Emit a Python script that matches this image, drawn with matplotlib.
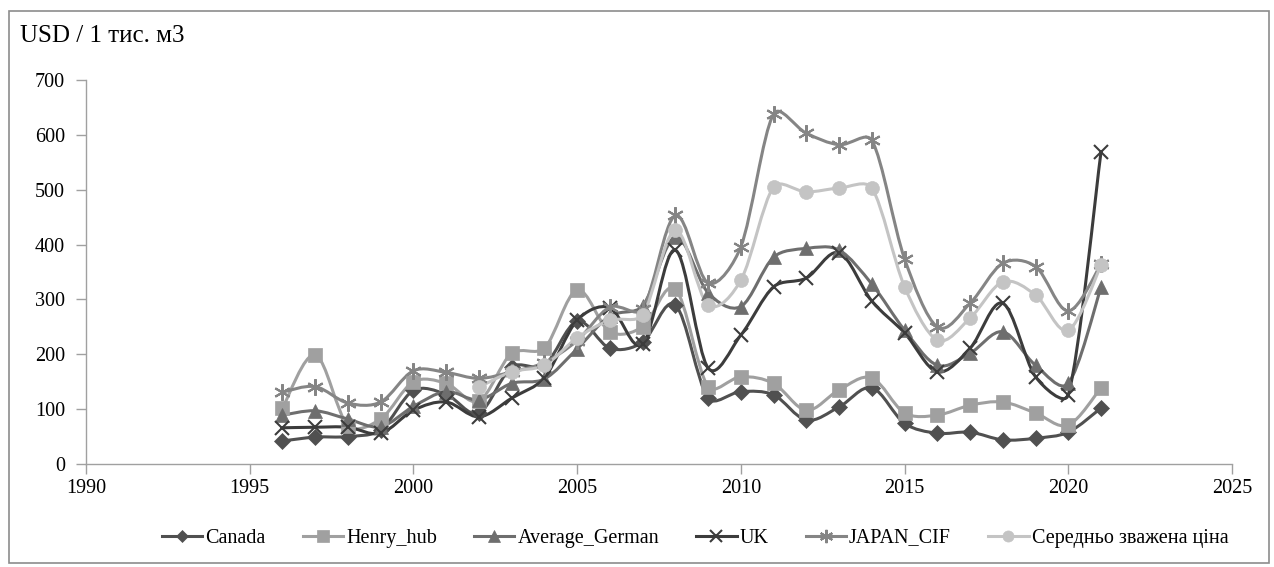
import numpy as np
import matplotlib
matplotlib.use("Agg")
import matplotlib.pyplot as plt
from matplotlib.path import Path
from matplotlib.patches import PathPatch, Rectangle
from matplotlib.lines import Line2D

plt.rcParams['font.family'] = ['Liberation Serif', 'DejaVu Serif']

years = list(range(1996, 2022))
canada = [42, 49, 50, 62, 134, 127, 93, 177, 180, 260, 211, 222, 290, 120, 132, 126, 80, 104, 139, 74, 56, 58, 44, 47, 58, 102]
henry_hub = [102, 199, 70, 82, 150, 147, 115, 202, 211, 317, 241, 250, 319, 141, 159, 147, 98, 135, 157, 93, 89, 107, 113, 93, 71, 139]
average_german = [89, 97, 82, 68, 105, 132, 117, 147, 155, 210, 270, 288, 414, 312, 287, 377, 393, 390, 328, 244, 180, 202, 241, 180, 147, 322]
uk = [66, 67, 67, 56, 98, 113, 86, 120, 157, 262, 285, 218, 390, 175, 235, 323, 339, 385, 297, 239, 168, 211, 293, 159, 126, 569]
japan_cif = [131, 141, 111, 113, 170, 167, 156, 168, 185, 225, 286, 282, 453, 330, 396, 638, 603, 582, 590, 374, 250, 293, 366, 360, 279, 364]
weighted_years = list(range(2002, 2022))
weighted = [140, 168, 180, 230, 262, 272, 426, 290, 335, 505, 496, 503, 503, 323, 226, 266, 332, 308, 244, 362]

series = [
    ("Canada", years, canada, "#505050", "D", 8),
    ("Henry_hub", years, henry_hub, "#a0a0a0", "s", 10),
    ("Average_German", years, average_german, "#6e6e6e", "^", 10),
    ("UK", years, uk, "#3c3c3c", "x", 10),
    ("JAPAN_CIF", years, japan_cif, "#858585", (6, 2, 0), 12),
    ("Середньо зважена ціна", weighted_years, weighted, "#c4c4c4", "o", 10),
]

W, H = 1274, 567
fig = plt.figure(figsize=(W / 100, H / 100), dpi=100)
ax = fig.add_axes([86 / W, 1 - 464 / H, (1232 - 86) / W, (464 - 80) / H])
ax.set_xlim(1990, 2025)
ax.set_ylim(0, 700)


def smooth_path(ax, xs, ys):
    pts = ax.transData.transform(np.column_stack([xs, ys]).astype(float))
    n = len(pts)
    verts = [pts[0]]
    codes = [Path.MOVETO]
    for i in range(n - 1):
        p0 = pts[i - 1] if i > 0 else pts[i]
        p1 = pts[i]
        p2 = pts[i + 1]
        p3 = pts[i + 2] if i + 2 < n else pts[i + 1]
        L = np.hypot(*(p2 - p1))
        c1d = (p2 - p0) / 6.0
        c2d = (p3 - p1) / 6.0
        cap = L * 0.34
        for c in (c1d, c2d):
            l = np.hypot(*c)
            if l > cap and l > 0:
                c *= cap / l
        verts += [p1 + c1d, p2 - c2d, p2]
        codes += [Path.CURVE4] * 3
    verts = ax.transData.inverted().transform(np.array(verts))
    return Path(verts, codes)


handles = []
for i, (name, xs, ys, col, mk, ms) in enumerate(series):
    path = smooth_path(ax, xs, ys)
    ax.add_patch(PathPatch(path, facecolor='none', edgecolor=col, lw=2.2, zorder=2 + i * 0.1,
                           capstyle='round', joinstyle='round'))
    mew = 1.5 if mk in ("x", (6, 2, 0)) else 0.5
    ax.plot(xs, ys, linestyle='none', marker=mk, markersize=ms, color=col,
            markeredgecolor=col, markeredgewidth=mew, zorder=3 + i * 0.1)
    handles.append(Line2D([], [], color=col, lw=2.2, marker=mk, markersize=ms * 0.8,
                          markeredgecolor=col, markeredgewidth=mew, label=name))

for s in ['top', 'right']:
    ax.spines[s].set_visible(False)
for s in ['left', 'bottom']:
    ax.spines[s].set_color('#a0a0a0')
    ax.spines[s].set_linewidth(1.0)

ax.set_xticks(range(1990, 2026, 5))
ax.set_yticks(range(0, 701, 100))
ax.tick_params(axis='both', colors='#a0a0a0', labelcolor='black', labelsize=14.5,
               length=7, width=1.0, direction='out')
ax.tick_params(axis='y', pad=8)
ax.tick_params(axis='x', pad=4)

fig.text(20 / W, 1 - 36 / H, "USD / 1 тис. м3", fontsize=18, va='center', ha='left')

fig.legend(handles=handles, loc='center', bbox_to_anchor=(695 / W, 1 - 538 / H), ncol=6,
           frameon=False, fontsize=14.5, handlelength=2.0, handletextpad=0.15,
           columnspacing=1.85)

fig.add_artist(Rectangle((9 / W, 1 - 563 / H), (1269 - 9) / W, (563 - 11) / H,
                         transform=fig.transFigure, facecolor='none',
                         edgecolor='#8c8c8c', lw=1.2))

fig.savefig("out.png", dpi=100)
